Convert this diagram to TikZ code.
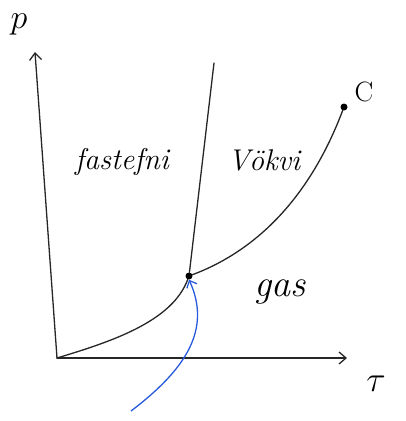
\documentclass[tikz,border=0pt]{standalone}
\usepackage{fix-cm}
\usepackage{xcolor}
\usetikzlibrary{arrows.meta,positioning}

\definecolor{penblue}{RGB}{40,90,220}

\begin{document}
\begin{tikzpicture}[
  x=1pt, y=-1pt,
  line/.style={draw=black!85, line width=1.3pt, line cap=round},
  axis/.style={line, -{Straight Barb[length=7pt, width=12pt]}},
  lbl/.style={font=\fontsize{30}{34}\selectfont\itshape, inner sep=0pt},
  dot/.style={circle, fill=black, inner sep=0pt, minimum size=7pt},
  hint/.style={draw=penblue, line width=1.3pt, -{Straight Barb[length=6pt, width=11pt]}}
]
\useasboundingbox (0,0) rectangle (406,421);

% axes
\coordinate (o) at (57,358);
\coordinate (ytop) at (35,52);
\coordinate (xend) at (347,358);
\draw[axis] (o) -- (ytop);
\draw[axis] (o) -- (xend);
\node[lbl, font=\fontsize{34}{36}\selectfont] (p) at (19,24) {$p$};
\node[lbl, font=\fontsize{36}{38}\selectfont] (tau) at (376,384) {$\tau$};

% points
\node[dot] (triple) at (189,276) {};
\node[dot] (crit) at (344,107) {};
\coordinate (melt) at (214,63);
\node[lbl, font=\fontsize{28}{30}\selectfont] (c) at (364,92) {C};

% phase boundaries
\draw[line] (o) .. controls (110,342) and (172,322) .. (triple);
\draw[line] (triple) -- (melt);
\draw[line] (triple) .. controls (245,255) and (305,210) .. (crit);

% regions
\node[lbl] (solid) at (122,162) {fastefni};
\node[lbl] (liquid) at (264,160) {V\"okvi};
\node[lbl, font=\fontsize{38}{40}\selectfont\itshape] (gas) at (280,292) {gas};

% blue arrow
\coordinate (hstart) at (131,411);
\draw[hint] (hstart) .. controls (185,370) and (212,330) .. (triple.south);
\end{tikzpicture}
\end{document}
